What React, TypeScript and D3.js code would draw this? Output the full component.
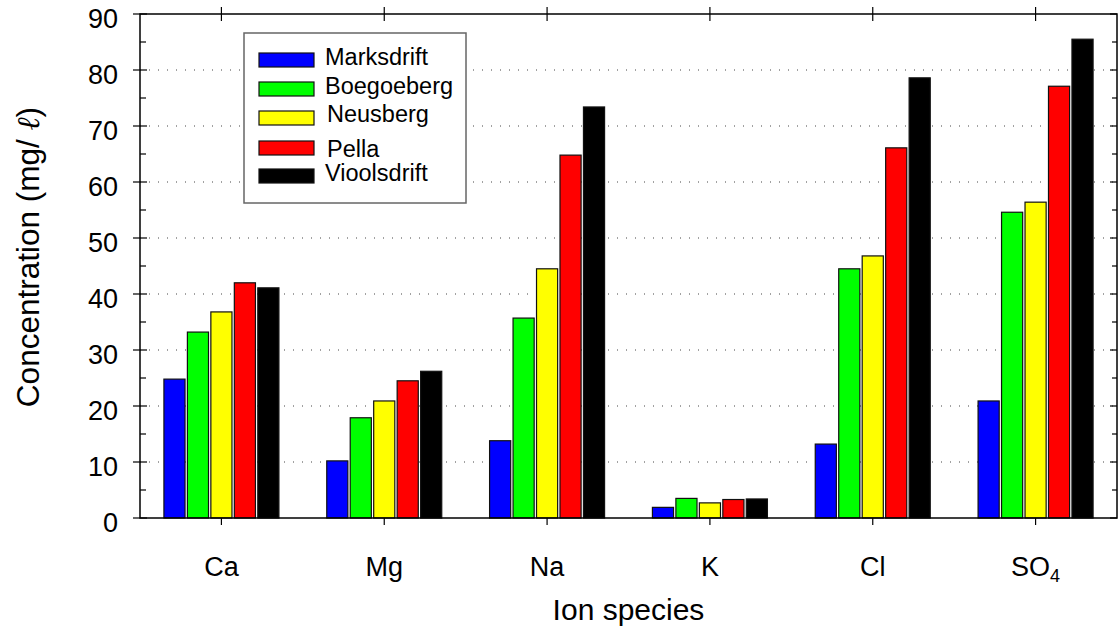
import React from 'react'
import * as d3 from 'd3'

const ions = ['Ca', 'Mg', 'Na', 'K', 'Cl', 'SO4']
const sites = ['Marksdrift', 'Boegoeberg', 'Neusberg', 'Pella', 'Vioolsdrift']
const colors = ['#0000ff', '#00ff00', '#ffff00', '#ff0000', '#000000']

// concentration per site, in the order of ions
const marksdrift = [24.8, 10.2, 13.8, 1.9, 13.2, 20.9]
const boegoeberg = [33.2, 17.9, 35.7, 3.5, 44.5, 54.6]
const neusberg = [36.8, 20.9, 44.5, 2.7, 46.8, 56.4]
const pella = [42.0, 24.5, 64.8, 3.3, 66.1, 77.1]
const vioolsdrift = [41.1, 26.2, 73.4, 3.4, 78.6, 85.5]
const series = [marksdrift, boegoeberg, neusberg, pella, vioolsdrift]

const yMajor = [0, 10, 20, 30, 40, 50, 60, 70, 80, 90]
const yMinor = [5, 15, 25, 35, 45, 55, 65, 75, 85]

const W = 1120
const H = 630
const margin = { top: 14, right: 3, bottom: 112, left: 140 }
const font = '"Liberation Sans", Arial, sans-serif'

export default function App() {
  const x0 = margin.left
  const x1 = W - margin.right
  const yTop = margin.top
  const yBot = H - margin.bottom

  const x = d3.scaleBand().domain(ions).range([x0, x1]).padding(0)
  const y = d3.scaleLinear().domain([0, 90]).range([yBot, yTop])
  const inner = d3.scaleBand().domain(sites).range([0, 115]).paddingInner(0.1)
  const groupOffset = (x.bandwidth() - 115) / 2

  const legendY = [60, 89, 118, 148, 176]
  const legendBase = [65, 94, 122, 157, 181]

  return (
    <svg width={W} height={H} viewBox={`0 0 ${W} ${H}`}
      style={{ position: 'absolute', left: 0, top: 0, background: '#fff' }} fontFamily={font}>
      {/* dotted grid */}
      {yMajor.filter(v => v > 0 && v < 90).map(v => (
        <line key={'g' + v} x1={x0} x2={x1} y1={y(v)} y2={y(v)}
          stroke="#444" strokeWidth={1} strokeDasharray="1,8" />
      ))}

      {/* bars */}
      {ions.map((ion, i) => (
        <g key={ion} transform={`translate(${x(ion)! + groupOffset},0)`}>
          {series.map((s, j) => (
            <rect key={j} x={inner(sites[j])} y={y(s[i])} width={inner.bandwidth()}
              height={yBot - y(s[i])} fill={colors[j]} stroke="#111" strokeWidth={1.2} />
          ))}
        </g>
      ))}

      {/* frame */}
      <rect x={x0} y={yTop} width={x1 - x0} height={yBot - yTop} fill="none" stroke="#000" strokeWidth={1.5} />

      {/* y axis ticks */}
      {yMajor.map(v => (
        <g key={'l' + v}>
          <line x1={x0 - 7} x2={x0 + 7} y1={y(v)} y2={y(v)} stroke="#000" strokeWidth={1.2} />
          <line x1={x1 - 7} x2={x1} y1={y(v)} y2={y(v)} stroke="#000" strokeWidth={1.2} />
          <text x={118} y={y(v) + 4} dy="0.36em" textAnchor="end" fontSize={27} fill="#000">{v}</text>
        </g>
      ))}
      {yMinor.map(v => (
        <g key={'m' + v}>
          <line x1={x0} x2={x0 + 6} y1={y(v)} y2={y(v)} stroke="#000" strokeWidth={1.2} />
          <line x1={x1 - 5} x2={x1} y1={y(v)} y2={y(v)} stroke="#000" strokeWidth={1.2} />
        </g>
      ))}

      {/* category ticks and labels */}
      {ions.map(ion => {
        const cx = x(ion)! + x.bandwidth() / 2
        return (
          <g key={'c' + ion}>
            <line x1={cx} x2={cx} y1={yBot} y2={yBot + 7} stroke="#000" strokeWidth={1.2} />
            <line x1={cx} x2={cx} y1={yTop - 7} y2={yTop + 7} stroke="#000" strokeWidth={1.2} />
            <text x={cx} y={576} textAnchor="middle" fontSize={27} fill="#000">
              {ion === 'SO4' ? <>SO<tspan fontSize={18} dy={6}>4</tspan></> : ion}
            </text>
          </g>
        )
      })}

      {/* axis titles */}
      <text x={(x0 + x1) / 2} y={620} textAnchor="middle" fontSize={30} fill="#000">Ion species</text>
      <text transform="translate(39,257) rotate(-90)" textAnchor="middle" fontSize={31.5} fill="#000">
        Concentration (mg/ <tspan fontFamily='"DejaVu Serif", serif' fontStyle="italic">ℓ</tspan>)
      </text>

      {/* legend */}
      <rect x={244} y={33} width={222} height={170} fill="#fff" stroke="#666" strokeWidth={1.5} />
      {sites.map((s, j) => (
        <g key={'lg' + s}>
          <rect x={259} y={legendY[j] - 7} width={55} height={14} fill={colors[j]} stroke="#111" strokeWidth={1.2} />
          <text x={j === 2 || j === 3 ? 327 : 325} y={legendBase[j]} fontSize={23.5} fill="#000">{s}</text>
        </g>
      ))}
    </svg>
  )
}
